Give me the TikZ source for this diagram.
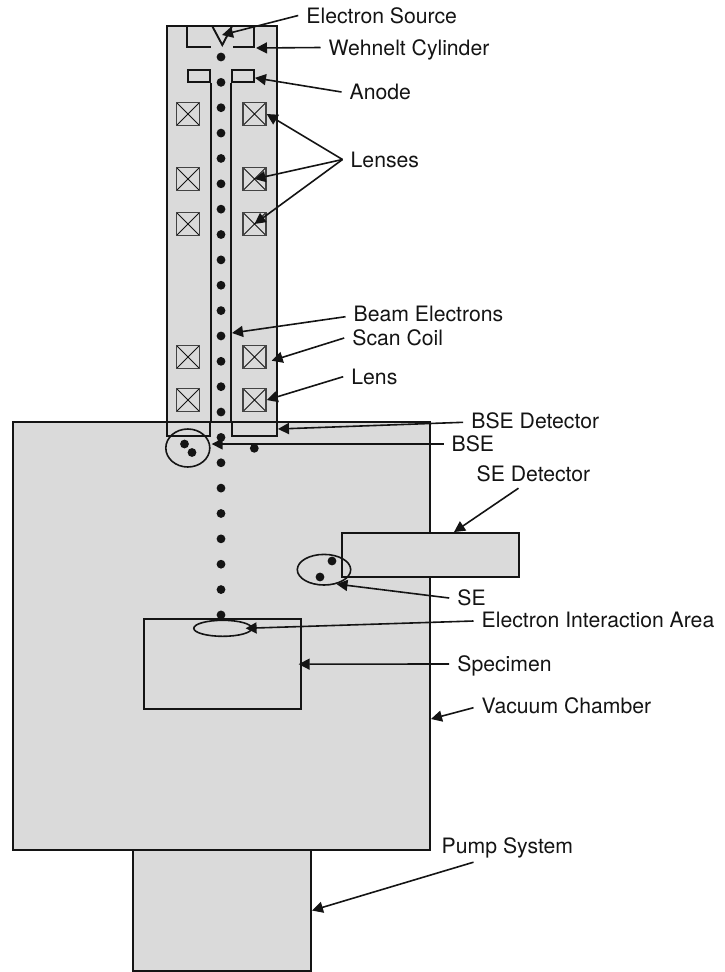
\documentclass[tikz,border=0pt]{standalone}
\usepackage{fontspec}
\setmainfont{TeX Gyre Heros}
\usetikzlibrary{arrows.meta,positioning,calc,shapes.geometric}
\definecolor{chamberGray}{HTML}{DADADA}
\definecolor{inkBlack}{HTML}{141414}
\tikzset{
  flow arrow/.style={-{Triangle[length=11pt,width=11pt]},draw=inkBlack,line width=1.6pt},
  part node/.style={draw=inkBlack,fill=chamberGray,line width=1.9pt,inner sep=0pt},
  cloud node/.style={ellipse,draw=inkBlack,line width=1.6pt,inner sep=0pt},
  coil node/.style={draw=inkBlack!80,line width=1.4pt,minimum size=23pt,inner sep=0pt,
    path picture={\draw[line width=0.8pt,inkBlack]
      (path picture bounding box.north west) -- (path picture bounding box.south east)
      (path picture bounding box.north east) -- (path picture bounding box.south west);}},
  electron node/.style={circle,fill=inkBlack,minimum size=8.8pt,inner sep=0pt},
  label node/.style={anchor=west,inner xsep=8pt,inner ysep=0pt,text height=15pt,text depth=0pt,
    text=inkBlack,font=\fontsize{21.2pt}{24pt}\selectfont}
}
\begin{document}
\begin{tikzpicture}[x=1pt,y=-1pt]
    \useasboundingbox (0,0) rectangle (724,972);
    \node[part node,minimum width=417pt,minimum height=428pt] (chamber) at (221.5,636) {};
    \node[part node,minimum width=178pt,minimum height=121pt] (pump) at (222,910.5) {};
    \node[part node,minimum width=110.3pt,minimum height=396.3pt] (column) at (221.85,223.85) {};
    \node[part node,minimum width=43pt,minimum height=14pt] (bseLeft) at (188.2,429) {};
    \node[part node,minimum width=45pt,minimum height=14pt] (bseRight) at (254.5,429) {};
    \node[part node,minimum width=21.7pt,minimum height=12.3pt] (anodeLeft) at (198.85,75.85) {};
    \node[part node,minimum width=22pt,minimum height=12.3pt] (anodeRight) at (243,75.85) {};
    \draw[line width=1.9pt,inkBlack] (anodeLeft.south east) -- (bseLeft.north east);
    \draw[line width=1.9pt,inkBlack] (anodeRight.south west) -- (bseRight.north west);
    \draw[line width=1.9pt,inkBlack] (187.3,25.7) |- (211,47);
    \draw[line width=1.9pt,inkBlack] (254.3,25.7) |- (233,47);
    \draw[line width=1.9pt,inkBlack] (212,25.7) -- (222.3,45) -- (232.3,25.7);
    \foreach \cy [count=\n] in {114,179,224,357,400} {
      \node[coil node] (coilLeft\n) at (188,\cy) {};
      \node[coil node] (coilRight\n) at (254.5,\cy) {};
    }
    \node[part node,minimum width=177pt,minimum height=44pt] (seDetector) at (430.5,555) {};
    \node[part node,fill=none,minimum width=156.7pt,minimum height=89.7pt] (specimen) at (222.35,664.15) {};
    \foreach \k in {0,...,22} {
      \node[electron node] (beam\k) at (221,{57+25.36*\k}) {};
    }
    \node[electron node] (stray) at (254.3,448.3) {};
    \node[electron node] (bseOne) at (184.5,444) {};
    \node[electron node] (bseTwo) at (192,452.5) {};
    \node[electron node] (seOne) at (332,561) {};
    \node[electron node] (seTwo) at (320,577) {};
    \node[cloud node,minimum width=44pt,minimum height=38pt] (bseCloud) at (187.8,448) {};
    \node[cloud node,minimum width=53.4pt,minimum height=30.6pt] (seCloud) at (324,569.7) {};
    \node[cloud node,minimum width=58pt,minimum height=16pt] (areaCloud) at (222.8,628.3) {};
    \node[label node] (lblSource) at (298.2,15.5) {Electron Source};
    \node[label node] (lblWehnelt) at (320.5,47.5) {Wehnelt Cylinder};
    \node[label node] (lblAnode) at (341.5,92) {Anode};
    \node[label node] (lblLenses) at (342.5,159.5) {Lenses};
    \node[label node] (lblBeam) at (345.5,314) {Beam Electrons};
    \node[label node] (lblScan) at (344.2,338) {Scan Coil};
    \node[label node] (lblLens) at (343.2,376.7) {Lens};
    \node[label node] (lblBseDet) at (463.2,420.7) {BSE Detector};
    \node[label node] (lblBse) at (443.5,444) {BSE};
    \node[label node] (lblSeDet) at (468.5,474) {SE Detector};
    \node[label node] (lblSe) at (449.2,598) {SE};
    \node[label node] (lblArea) at (473.5,620) {Electron Interaction Area};
    \node[label node] (lblSpecimen) at (449.2,664) {Specimen};
    \node[label node] (lblVacuum) at (473.5,706) {Vacuum Chamber};
    \node[label node] (lblPump) at (433.5,846) {Pump System};
    \coordinate (sourceTip) at (222,35);
    \coordinate (wehneltTip) at (256,48);
    \coordinate (beamTip) at (232,333);
    \coordinate (scanTip) at (271.7,360.7);
    \coordinate (bseTip) at (211.7,444);
    \coordinate (vacuumTip) at (431,719);
    \draw[flow arrow] (lblSource.west) -- (sourceTip);
    \draw[flow arrow] (lblWehnelt.west) -- (wehneltTip);
    \draw[flow arrow] (lblAnode.west) -- ([yshift=-2pt]anodeRight.east);
    \draw[flow arrow] (lblLenses.west) -- (coilRight1.east);
    \draw[flow arrow] (lblLenses.west) -- (coilRight2.center);
    \draw[flow arrow] (lblLenses.west) -- (coilRight3.center);
    \draw[flow arrow] ([yshift=-2.7pt]lblBeam.west) -- (beamTip);
    \draw[flow arrow] (lblScan.west) -- (scanTip);
    \draw[flow arrow] (lblLens.west) -- (coilRight5.east);
    \draw[flow arrow] ([yshift=-1.6pt]lblBseDet.west) -- (bseRight.east);
    \draw[flow arrow] (lblBse.west) -- (bseTip);
    \draw[flow arrow] ([xshift=-15pt,yshift=-6.5pt]lblSeDet.south) -- ([xshift=23.5pt]seDetector.north);
    \draw[flow arrow] (lblSe.west) -- (seCloud.-49);
    \draw[flow arrow] ([yshift=-1pt]lblArea.west) -- ([xshift=-7pt]areaCloud.east);
    \draw[flow arrow] (lblSpecimen.west) -- ([xshift=-3pt]specimen.east);
    \draw[flow arrow] ([yshift=-1.7pt]lblVacuum.west) -- (vacuumTip);
    \draw[flow arrow] ([xshift=40pt,yshift=-8.5pt]lblPump.south west) -- (pump.east);
  \end{tikzpicture}
\end{document}
